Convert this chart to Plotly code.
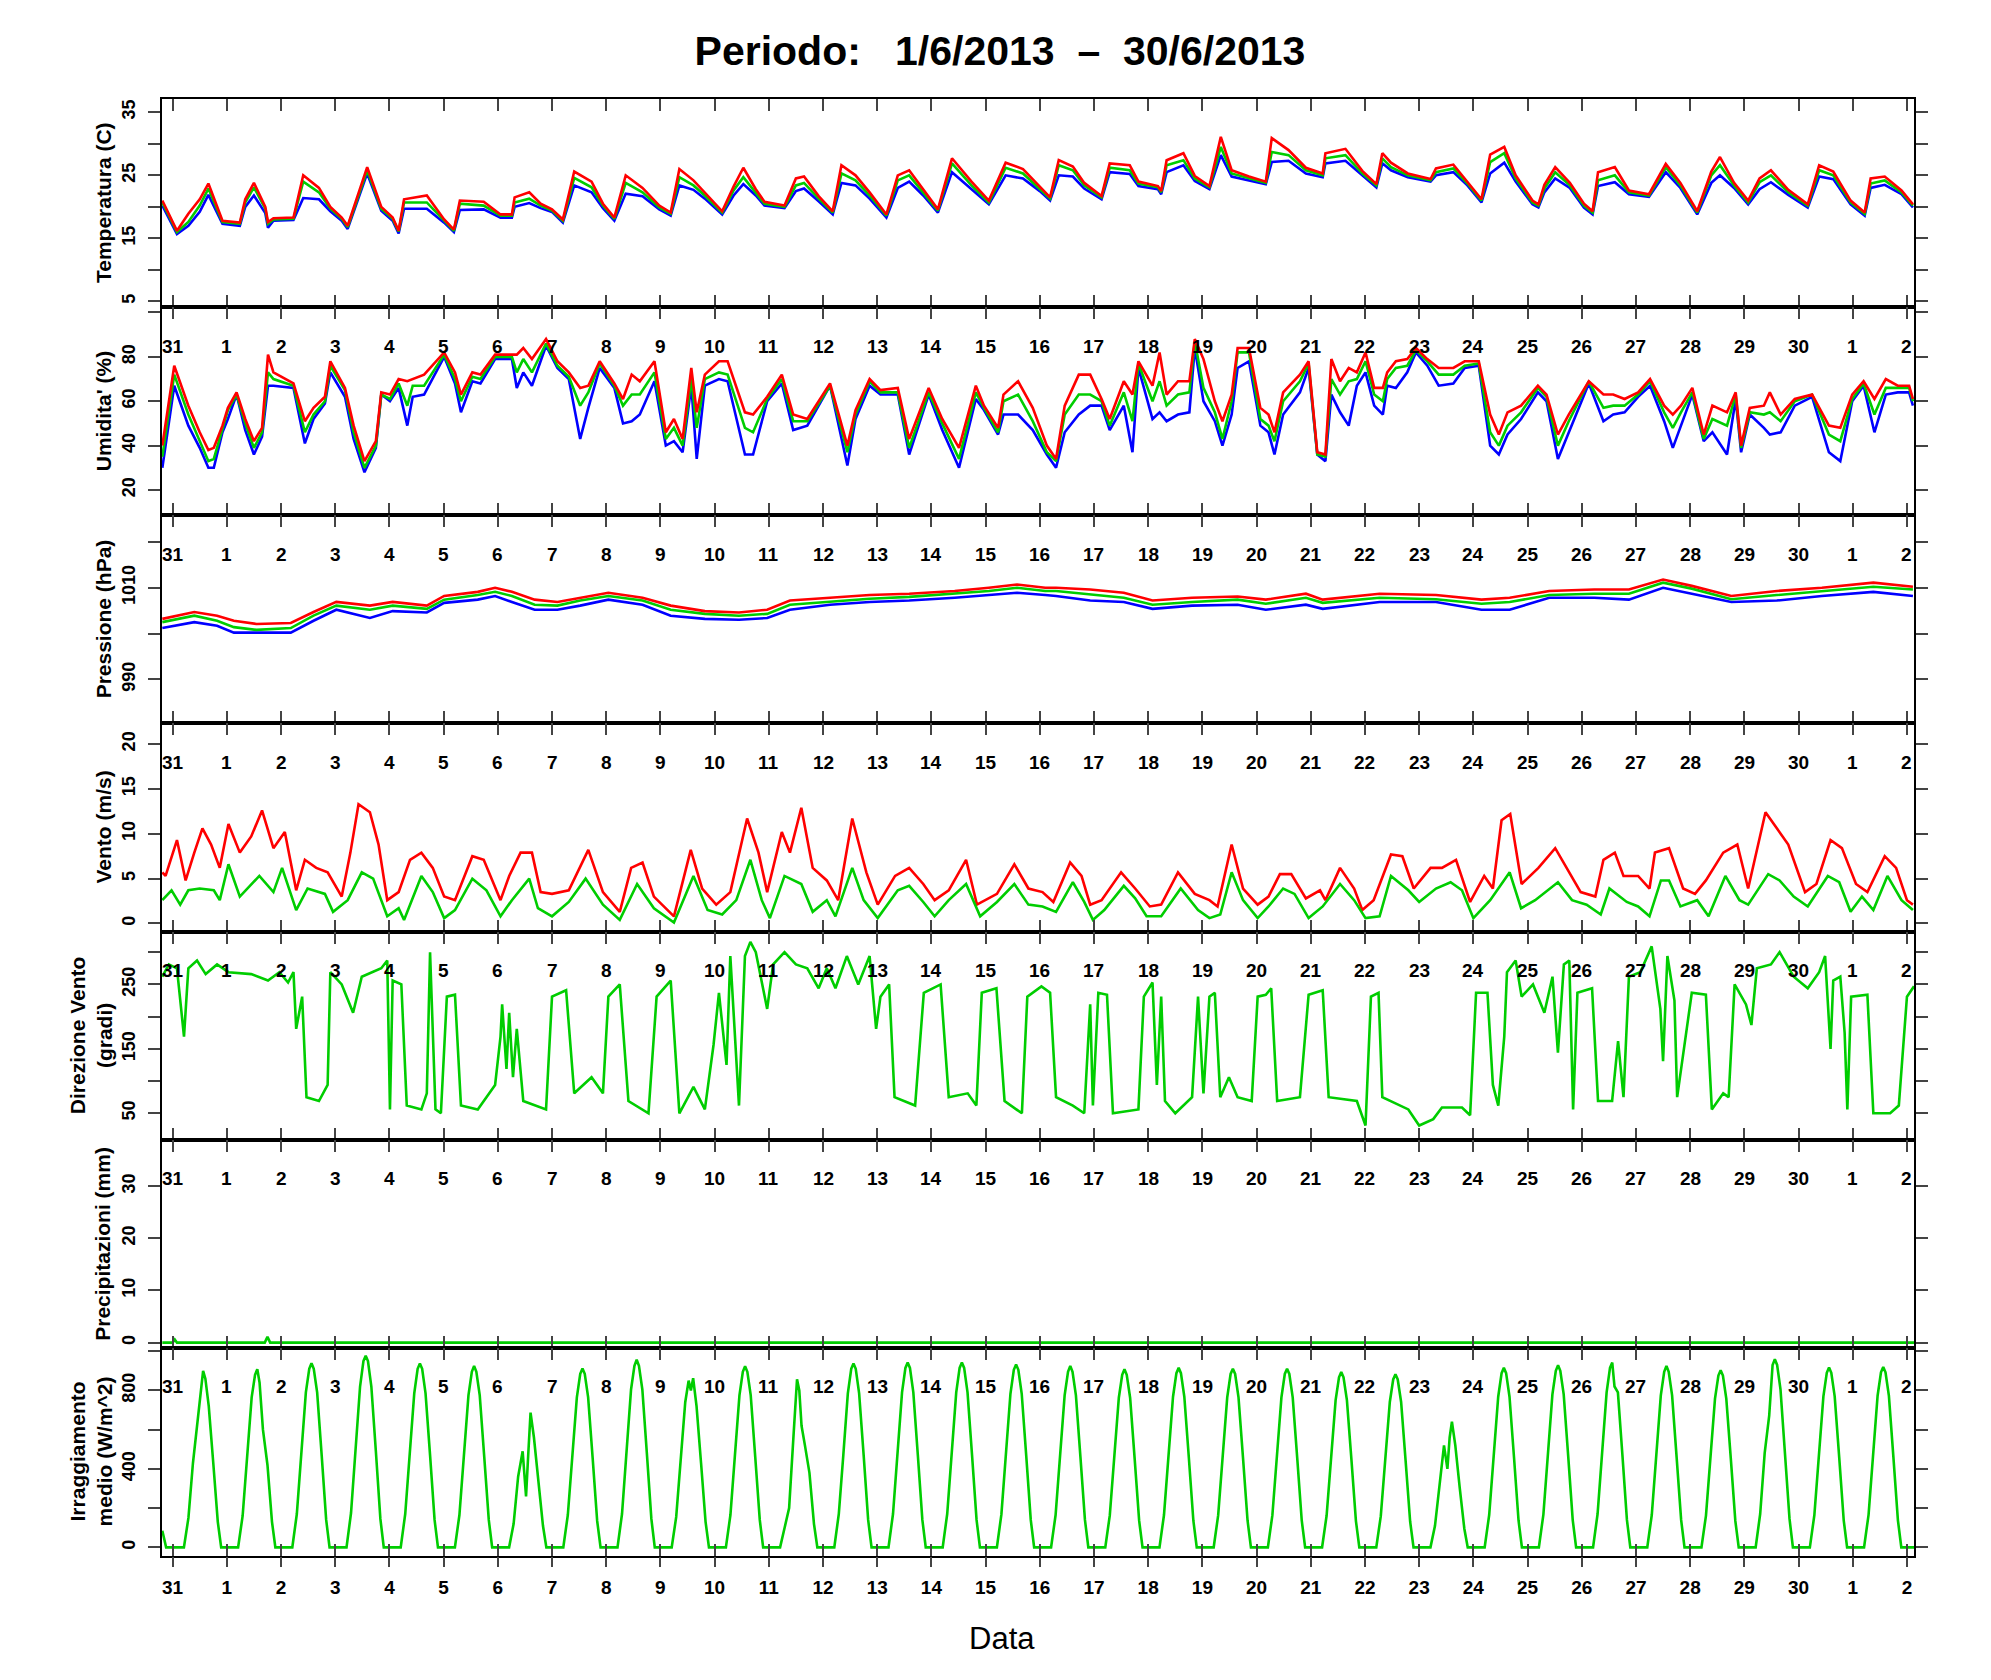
import pandas as pd
import plotly.graph_objects as go

# tempi in giorni dal 31/5/2013 00:00 (ora locale)
inizio = pd.Timestamp("2013-05-31")
x_da, x_a = -0.196, 32.13

# giorni sull'asse x (mezzanotte)
giorni_tick = list(range(33))
etichette_giorni = ["31"] + [str(g) for g in range(1, 31)] + ["1", "2"]

# --- temperatura (C): max, media, min ---
t_temp = [-0.19, 0.08, 0.29, 0.50, 0.66, 0.92, 1.24, 1.34, 1.50, 1.71,
          1.76, 1.86, 2.23, 2.41, 2.70, 2.91, 3.12, 3.23, 3.59, 3.85,
          4.06, 4.17, 4.27, 4.69, 5.01, 5.19, 5.30, 5.74, 6.05, 6.26,
          6.31, 6.58, 6.79, 7.00, 7.20, 7.41, 7.73, 7.94, 8.15, 8.36,
          8.67, 8.98, 9.19, 9.35, 9.61, 9.82, 10.14, 10.35, 10.53, 10.76,
          10.92, 11.29, 11.50, 11.65, 11.92, 12.18, 12.34, 12.60, 12.86, 13.17,
          13.38, 13.59, 13.85, 14.12, 14.38, 14.74, 15.06, 15.37, 15.69, 16.00,
          16.19, 16.35, 16.61, 16.82, 17.14, 17.29, 17.66, 17.82, 18.18, 18.24,
          18.34, 18.65, 18.86, 19.13, 19.34, 19.54, 19.86, 20.17, 20.28, 20.59,
          20.91, 21.22, 21.27, 21.64, 21.95, 22.21, 22.32, 22.48, 22.79, 23.21,
          23.31, 23.63, 23.89, 24.15, 24.31, 24.57, 24.78, 25.09, 25.20, 25.31,
          25.51, 25.78, 26.04, 26.20, 26.30, 26.61, 26.87, 27.24, 27.55, 27.82,
          28.13, 28.39, 28.55, 28.81, 29.07, 29.28, 29.49, 29.81, 30.17, 30.38,
          30.64, 30.96, 31.22, 31.33, 31.59, 31.90, 32.11]
temp_max = [21.0, 16.2, 18.9, 21.2, 23.7, 17.8, 17.5, 21.2, 23.8, 20.0,
            17.6, 18.2, 18.3, 25.0, 23.0, 20.0, 18.3, 17.0, 26.3, 20.0,
            18.3, 16.2, 21.2, 21.8, 18.0, 16.4, 21.0, 20.8, 18.8, 18.8,
            21.5, 22.3, 20.5, 19.6, 18.0, 25.6, 24.0, 20.5, 18.3, 25.0,
            23.0, 20.2, 19.1, 26.0, 24.2, 22.3, 19.3, 23.2, 26.2, 22.8,
            20.8, 20.2, 24.5, 24.8, 21.7, 19.3, 26.6, 25.0, 22.3, 18.8,
            25.0, 25.8, 22.8, 19.6, 27.7, 24.0, 21.0, 27.0, 26.0, 23.3,
            21.5, 27.4, 26.4, 23.8, 21.7, 26.9, 26.6, 24.0, 23.3, 22.5,
            27.4, 28.5, 24.9, 23.3, 31.1, 25.8, 24.8, 24.0, 30.9, 29.0,
            26.2, 25.3, 28.5, 29.2, 25.7, 23.6, 28.5, 27.0, 25.3, 24.4,
            26.1, 26.7, 24.0, 21.2, 28.3, 29.5, 25.0, 21.0, 20.4, 23.5,
            26.3, 23.8, 20.5, 19.3, 25.5, 26.3, 22.6, 22.0, 26.8, 23.8,
            19.3, 25.6, 27.9, 23.8, 21.0, 24.5, 25.8, 22.7, 20.4, 26.6,
            25.6, 21.0, 19.1, 24.5, 24.8, 22.6, 20.4]
temp_med = [20.7, 16.0, 17.6, 20.2, 22.9, 17.6, 17.3, 20.7, 23.1, 19.7,
            17.3, 18.0, 18.1, 24.0, 22.3, 19.7, 18.1, 16.8, 25.8, 19.7,
            18.1, 16.1, 20.7, 20.7, 17.8, 16.2, 20.5, 20.2, 18.6, 18.6,
            20.7, 21.3, 20.2, 19.4, 17.8, 24.6, 23.1, 20.2, 18.1, 23.8,
            22.3, 19.9, 18.9, 24.7, 23.4, 21.8, 19.1, 22.6, 24.7, 22.3,
            20.5, 20.0, 23.4, 23.8, 21.3, 19.1, 25.3, 24.2, 21.8, 18.6,
            24.2, 25.0, 22.3, 19.4, 26.9, 23.4, 20.7, 26.2, 25.3, 22.9,
            21.3, 26.6, 25.8, 23.4, 21.5, 26.2, 25.8, 23.7, 23.1, 22.3,
            26.6, 27.4, 24.5, 23.1, 29.5, 25.3, 24.5, 23.8, 28.7, 28.2,
            25.8, 25.0, 27.7, 28.2, 25.3, 23.4, 27.7, 26.3, 25.0, 24.2,
            25.5, 26.1, 23.7, 21.0, 27.1, 28.5, 24.5, 20.7, 20.2, 22.9,
            25.5, 23.4, 20.2, 19.1, 24.2, 25.0, 22.3, 21.8, 26.3, 23.4,
            19.1, 25.0, 26.6, 23.4, 20.7, 23.9, 25.0, 22.3, 20.2, 25.8,
            25.0, 20.7, 18.9, 23.7, 24.2, 22.3, 20.2]
temp_min = [20.2, 15.7, 17.0, 19.2, 21.9, 17.3, 17.0, 20.0, 21.8, 19.0,
            16.7, 17.8, 17.9, 21.4, 21.2, 19.3, 17.8, 16.5, 25.3, 19.4,
            17.8, 15.8, 19.7, 19.7, 17.5, 16.0, 19.5, 19.6, 18.3, 18.3,
            20.0, 20.6, 19.8, 19.2, 17.5, 23.4, 22.3, 19.8, 17.8, 22.1,
            21.7, 19.6, 18.6, 23.4, 22.7, 21.3, 18.8, 21.8, 23.6, 21.8,
            20.2, 19.8, 22.5, 22.9, 20.9, 18.8, 23.8, 23.4, 21.3, 18.3,
            23.0, 24.0, 21.8, 19.1, 25.5, 22.8, 20.4, 25.0, 24.5, 22.5,
            21.0, 25.0, 24.8, 22.9, 21.2, 25.5, 25.2, 23.3, 22.8, 22.0,
            25.5, 26.6, 24.1, 22.8, 28.2, 24.8, 24.2, 23.6, 27.1, 27.3,
            25.3, 24.7, 26.9, 27.3, 25.0, 23.1, 26.9, 25.8, 24.7, 24.0,
            25.0, 25.5, 23.4, 20.7, 25.3, 27.0, 24.0, 20.4, 19.9, 22.3,
            24.5, 23.0, 19.9, 18.8, 23.3, 23.9, 22.0, 21.6, 25.5, 23.0,
            18.8, 23.8, 25.0, 23.0, 20.4, 22.8, 23.9, 21.9, 19.9, 24.8,
            24.4, 20.4, 18.6, 23.0, 23.5, 22.0, 19.9]

# --- umidita' (%): max, media, min ---
t_umid = [-0.19, 0.03, 0.29, 0.50, 0.66, 0.76, 0.92, 1.02, 1.18, 1.34,
          1.50, 1.65, 1.76, 1.86, 2.23, 2.44, 2.60, 2.81, 2.91, 3.18,
          3.34, 3.54, 3.75, 3.85, 4.01, 4.17, 4.33, 4.43, 4.64, 5.01,
          5.21, 5.32, 5.53, 5.68, 5.95, 6.26, 6.35, 6.47, 6.63, 6.89,
          7.10, 7.31, 7.52, 7.67, 7.88, 8.15, 8.31, 8.47, 8.62, 8.89,
          9.10, 9.25, 9.41, 9.57, 9.67, 9.82, 10.08, 10.24, 10.56, 10.71,
          10.97, 11.24, 11.45, 11.71, 12.13, 12.45, 12.60, 12.86, 13.06, 13.38,
          13.59, 13.95, 14.20, 14.51, 14.82, 14.97, 15.23, 15.33, 15.60, 15.87,
          16.13, 16.30, 16.46, 16.72, 16.93, 17.14, 17.29, 17.55, 17.71, 17.82,
          18.08, 18.21, 18.34, 18.55, 18.76, 18.86, 19.02, 19.23, 19.37, 19.54,
          19.65, 19.86, 20.07, 20.22, 20.33, 20.49, 20.80, 20.96, 21.12, 21.27,
          21.38, 21.54, 21.70, 21.85, 22.01, 22.17, 22.33, 22.41, 22.57, 22.78,
          22.94, 23.15, 23.36, 23.63, 23.84, 24.10, 24.31, 24.47, 24.63, 24.88,
          25.19, 25.35, 25.56, 25.76, 26.13, 26.40, 26.58, 26.79, 27.04, 27.26,
          27.52, 27.68, 27.83, 28.04, 28.25, 28.41, 28.68, 28.84, 28.94, 29.10,
          29.36, 29.47, 29.67, 29.93, 30.25, 30.56, 30.77, 30.99, 31.20, 31.40,
          31.61, 31.83, 32.04, 32.11]
umid_max = [40, 76, 58, 46, 38, 39, 49, 57, 64, 52,
            42, 48, 81, 73, 68, 51, 57, 62, 78, 66,
            49, 33, 42, 64, 63, 70, 69, 70, 72, 82,
            73, 63, 73, 72, 81, 81, 81, 84, 79, 88,
            78, 73, 66, 67, 78, 68, 61, 72, 69, 78,
            46, 52, 43, 75, 55, 72, 78, 78, 55, 54,
            62, 72, 54, 52, 68, 40, 56, 70, 65, 66,
            43, 66, 52, 39, 67, 58, 48, 63, 69, 57,
            40, 34, 58, 72, 72, 61, 52, 69, 63, 78,
            67, 82, 63, 69, 69, 88, 79, 60, 51, 63,
            84, 84, 57, 54, 46, 64, 72, 78, 37, 36,
            79, 69, 75, 73, 82, 66, 66, 73, 78, 79,
            84, 79, 75, 75, 78, 78, 54, 45, 55, 58,
            67, 63, 45, 54, 69, 63, 63, 61, 64, 70,
            58, 54, 58, 66, 45, 58, 55, 64, 40, 57,
            58, 64, 54, 61, 63, 49, 48, 63, 69, 61,
            70, 67, 67, 61]
umid_med = [35, 72, 54, 42, 33, 34, 48, 56, 63, 50,
            39, 46, 73, 70, 67, 46, 54, 60, 76, 65,
            46, 30, 40, 63, 61, 68, 58, 67, 67, 81,
            70, 60, 71, 70, 80, 80, 73, 79, 73, 86,
            76, 71, 58, 64, 77, 67, 58, 63, 63, 73,
            43, 48, 40, 70, 48, 70, 73, 72, 48, 46,
            61, 70, 51, 51, 67, 37, 54, 69, 64, 64,
            39, 64, 50, 34, 64, 57, 46, 60, 63, 51,
            37, 33, 54, 63, 63, 60, 49, 64, 51, 77,
            60, 69, 58, 63, 64, 87, 66, 55, 43, 60,
            82, 82, 52, 49, 42, 60, 69, 77, 36, 35,
            70, 63, 69, 70, 78, 63, 60, 70, 75, 76,
            83, 78, 72, 72, 76, 77, 46, 40, 49, 55,
            66, 62, 40, 51, 69, 57, 58, 58, 63, 69,
            55, 48, 55, 64, 43, 52, 49, 63, 39, 55,
            54, 55, 51, 60, 63, 45, 42, 61, 68, 54,
            66, 66, 66, 60]
umid_min = [30, 67, 49, 39, 30, 30, 46, 52, 63, 47,
            36, 44, 67, 67, 66, 41, 52, 59, 73, 62,
            43, 28, 39, 63, 60, 66, 49, 62, 63, 80,
            68, 55, 69, 68, 79, 79, 66, 73, 67, 85,
            75, 70, 43, 57, 75, 66, 50, 51, 54, 69,
            40, 42, 37, 67, 34, 67, 70, 69, 36, 36,
            60, 68, 47, 49, 67, 31, 52, 67, 63, 63,
            36, 63, 47, 30, 61, 56, 45, 54, 54, 47,
            36, 30, 46, 54, 58, 58, 47, 58, 37, 75,
            52, 55, 51, 54, 55, 84, 60, 51, 40, 54,
            75, 78, 49, 46, 36, 54, 64, 75, 36, 33,
            63, 55, 49, 67, 73, 58, 54, 67, 66, 73,
            82, 76, 67, 68, 75, 76, 40, 36, 45, 52,
            64, 60, 34, 46, 68, 51, 54, 55, 62, 67,
            51, 39, 49, 63, 42, 46, 36, 61, 37, 54,
            48, 45, 46, 58, 62, 37, 33, 60, 67, 46,
            63, 64, 64, 58]

# --- pressione (hPa): max, media, min ---
t_press = [-0.19, 0.40, 0.82, 1.13, 1.55, 2.18, 2.60, 3.02, 3.64, 4.06,
           4.69, 5.01, 5.63, 5.95, 6.26, 6.68, 7.10, 7.52, 8.04, 8.67,
           9.19, 9.82, 10.45, 10.97, 11.39, 12.13, 12.86, 13.59, 14.43, 15.06,
           15.58, 16.10, 16.30, 16.93, 17.55, 18.08, 18.81, 19.65, 20.17, 20.91,
           21.22, 22.27, 23.31, 24.15, 24.67, 25.40, 26.23, 26.87, 27.50, 28.03,
           28.76, 29.60, 30.43, 31.38, 32.11]
press_max = [1003.2, 1004.7, 1003.9, 1002.8, 1002.1, 1002.3, 1004.7, 1006.9, 1006.1, 1006.9,
             1006.1, 1008.2, 1009.1, 1010.0, 1009.1, 1007.4, 1006.9, 1007.8, 1008.9, 1007.8,
             1006.1, 1004.9, 1004.6, 1005.2, 1007.2, 1007.8, 1008.4, 1008.7, 1009.3, 1010.0,
             1010.7, 1010.0, 1010.0, 1009.6, 1008.9, 1007.2, 1007.8, 1008.1, 1007.4, 1008.7,
             1007.4, 1008.7, 1008.4, 1007.4, 1007.8, 1009.3, 1009.6, 1009.6, 1011.8, 1010.4,
             1008.2, 1009.3, 1010.0, 1011.1, 1010.2]
press_med = [1002.5, 1003.9, 1002.8, 1001.4, 1000.8, 1001.2, 1003.9, 1006.1, 1005.2, 1006.1,
             1005.4, 1007.4, 1008.4, 1009.1, 1008.2, 1006.3, 1006.1, 1007.2, 1008.2, 1007.2,
             1005.2, 1004.3, 1003.9, 1004.3, 1006.3, 1006.9, 1007.6, 1008.0, 1008.7, 1009.3,
             1010.0, 1009.3, 1009.3, 1008.6, 1007.8, 1006.3, 1006.9, 1007.4, 1006.5, 1007.8,
             1006.7, 1007.8, 1007.5, 1006.5, 1006.9, 1008.4, 1008.7, 1008.7, 1011.1, 1009.8,
             1007.5, 1008.4, 1009.3, 1010.2, 1009.6]
press_min = [1001.2, 1002.5, 1001.7, 1000.2, 1000.2, 1000.2, 1002.8, 1005.2, 1003.4, 1004.9,
             1004.6, 1006.7, 1007.4, 1008.2, 1006.9, 1005.2, 1005.2, 1006.1, 1007.4, 1006.3,
             1003.9, 1003.2, 1003.0, 1003.4, 1005.2, 1006.3, 1006.9, 1007.2, 1007.8, 1008.4,
             1008.9, 1008.4, 1008.2, 1007.2, 1006.9, 1005.4, 1006.1, 1006.3, 1005.2, 1006.3,
             1005.4, 1006.9, 1006.9, 1005.2, 1005.2, 1007.8, 1007.8, 1007.4, 1010.0, 1008.7,
             1006.9, 1007.2, 1008.2, 1009.1, 1008.2]

# --- vento (m/s): raffica (rosso) e medio (verde), coppie (giorno, valore) ---
vento_max = [(-0.19, 5.7), (-0.13, 5.3), (0.08, 9.3), (0.24, 4.8), (0.40, 7.9), (0.55, 10.6),
             (0.71, 8.8), (0.87, 6.2), (1.03, 11.1), (1.24, 7.9), (1.45, 9.7), (1.65, 12.6),
             (1.86, 8.4), (2.07, 10.2), (2.28, 3.7), (2.44, 7.1), (2.65, 6.2), (2.86, 5.7),
             (3.12, 3.0), (3.28, 7.9), (3.43, 13.3), (3.64, 12.4), (3.80, 8.8), (3.96, 2.6),
             (4.17, 3.5), (4.38, 7.1), (4.59, 7.9), (4.80, 6.2), (5.01, 3.0), (5.21, 2.6),
             (5.53, 7.5), (5.74, 7.1), (6.05, 2.6), (6.21, 5.3), (6.42, 7.9), (6.63, 7.9),
             (6.79, 3.5), (7.00, 3.3), (7.31, 3.7), (7.67, 8.2), (7.94, 3.5), (8.25, 1.3),
             (8.46, 6.2), (8.67, 6.8), (8.88, 3.0), (9.25, 0.8), (9.56, 8.2), (9.77, 3.9),
             (10.03, 2.1), (10.29, 3.5), (10.60, 11.7), (10.81, 7.9), (10.97, 3.5), (11.24, 10.2),
             (11.39, 7.9), (11.60, 12.9), (11.81, 6.2), (12.07, 4.8), (12.28, 2.6), (12.54, 11.7),
             (12.80, 5.7), (13.01, 2.1), (13.33, 5.3), (13.59, 6.2), (13.85, 4.4), (14.06, 2.6),
             (14.32, 3.7), (14.64, 7.1), (14.84, 2.1), (15.21, 3.3), (15.53, 6.6), (15.79, 3.9),
             (16.05, 3.5), (16.25, 2.4), (16.56, 6.8), (16.77, 5.3), (16.93, 2.1), (17.14, 2.6),
             (17.50, 5.7), (17.76, 3.9), (18.03, 1.9), (18.24, 2.1), (18.55, 5.7), (18.86, 3.3),
             (19.13, 2.6), (19.28, 1.9), (19.54, 8.8), (19.75, 3.9), (20.02, 2.1), (20.22, 3.0),
             (20.43, 5.5), (20.64, 5.5), (20.91, 2.8), (21.17, 3.7), (21.27, 2.6), (21.54, 6.2),
             (21.80, 3.9), (21.95, 1.5), (22.16, 2.6), (22.48, 7.7), (22.69, 7.5), (22.90, 3.9),
             (23.21, 6.2), (23.42, 6.2), (23.68, 7.1), (23.94, 2.4), (24.20, 5.3), (24.36, 3.9),
             (24.52, 11.5), (24.68, 12.2), (24.89, 4.4), (25.20, 6.2), (25.51, 8.4), (25.72, 6.2),
             (25.98, 3.5), (26.25, 3.0), (26.40, 7.1), (26.61, 7.9), (26.77, 5.3), (27.04, 5.3),
             (27.25, 3.9), (27.35, 7.9), (27.61, 8.4), (27.87, 3.9), (28.09, 3.3), (28.29, 4.8),
             (28.61, 7.9), (28.87, 8.8), (29.07, 3.9), (29.39, 12.4), (29.60, 10.6), (29.81, 8.8),
             (30.12, 3.5), (30.33, 4.4), (30.59, 9.3), (30.80, 8.4), (31.06, 4.4), (31.27, 3.5),
             (31.59, 7.5), (31.80, 6.2), (32.00, 2.6), (32.11, 2.1)]
vento_med = [(-0.19, 2.6), (-0.02, 3.7), (0.14, 2.1), (0.29, 3.7), (0.50, 3.9), (0.76, 3.7),
             (0.87, 2.6), (1.03, 6.6), (1.24, 3.0), (1.60, 5.3), (1.86, 3.5), (2.02, 6.2),
             (2.28, 1.5), (2.49, 3.9), (2.81, 3.3), (2.96, 1.3), (3.23, 2.6), (3.49, 5.7),
             (3.70, 5.0), (3.96, 0.8), (4.17, 1.7), (4.27, 0.4), (4.59, 5.3), (4.80, 3.5),
             (5.01, 0.6), (5.21, 1.5), (5.53, 5.0), (5.79, 3.7), (6.05, 0.8), (6.26, 2.6),
             (6.58, 5.0), (6.74, 1.7), (7.00, 0.8), (7.31, 2.4), (7.62, 5.0), (7.94, 2.1),
             (8.25, 0.4), (8.57, 4.4), (8.88, 1.7), (9.25, 0.1), (9.61, 5.3), (9.87, 1.5),
             (10.14, 1.0), (10.40, 2.6), (10.66, 7.1), (10.87, 2.6), (11.02, 0.6), (11.29, 5.3),
             (11.60, 4.4), (11.81, 1.3), (12.07, 2.6), (12.23, 0.8), (12.54, 6.2), (12.75, 2.6),
             (13.01, 0.6), (13.38, 3.7), (13.59, 4.2), (13.85, 2.4), (14.06, 0.8), (14.32, 2.6),
             (14.64, 4.4), (14.90, 0.8), (15.21, 2.4), (15.53, 4.4), (15.79, 2.1), (16.05, 1.9),
             (16.30, 1.3), (16.61, 4.6), (16.82, 2.4), (16.98, 0.4), (17.19, 1.5), (17.55, 4.2),
             (17.76, 2.8), (17.97, 0.8), (18.24, 0.8), (18.60, 3.9), (18.92, 1.5), (19.13, 0.6),
             (19.33, 1.0), (19.54, 5.7), (19.75, 2.6), (20.02, 0.6), (20.22, 1.9), (20.49, 3.9),
             (20.70, 3.3), (20.96, 0.6), (21.22, 1.9), (21.54, 4.4), (21.80, 2.6), (22.01, 0.6),
             (22.27, 0.8), (22.48, 5.3), (22.80, 3.7), (23.00, 2.4), (23.31, 3.9), (23.58, 4.6),
             (23.79, 3.7), (24.00, 0.6), (24.31, 2.6), (24.67, 5.7), (24.88, 1.7), (25.14, 2.6),
             (25.56, 4.6), (25.82, 2.6), (26.09, 2.1), (26.35, 1.0), (26.51, 3.9), (26.83, 2.4),
             (27.04, 1.9), (27.25, 0.8), (27.46, 4.8), (27.61, 4.8), (27.82, 1.9), (28.13, 2.6),
             (28.34, 0.8), (28.65, 5.3), (28.91, 2.6), (29.07, 2.1), (29.44, 5.5), (29.65, 4.8),
             (29.91, 3.0), (30.17, 1.9), (30.54, 5.3), (30.75, 4.6), (30.96, 1.3), (31.17, 3.0),
             (31.38, 1.5), (31.64, 5.3), (31.90, 2.6), (32.11, 1.5)]

# --- direzione vento (gradi) ---
direzione = [(-0.19, 262), (-0.07, 281), (0.08, 275), (0.21, 169), (0.29, 275), (0.45, 287),
             (0.61, 266), (0.82, 281), (1.03, 269), (1.45, 266), (1.76, 256), (1.97, 269),
             (2.13, 253), (2.23, 269), (2.28, 181), (2.39, 231), (2.47, 75), (2.70, 69),
             (2.86, 94), (2.91, 269), (3.12, 250), (3.33, 206), (3.49, 262), (3.85, 275),
             (3.96, 287), (4.01, 56), (4.06, 256), (4.22, 250), (4.32, 62), (4.59, 56),
             (4.69, 81), (4.75, 300), (4.85, 56), (4.95, 50), (5.06, 231), (5.21, 234),
             (5.32, 62), (5.63, 56), (5.95, 94), (6.05, 169), (6.08, 219), (6.16, 119),
             (6.21, 206), (6.28, 106), (6.35, 181), (6.47, 69), (6.89, 56), (7.00, 231),
             (7.26, 241), (7.41, 81), (7.73, 106), (7.94, 81), (8.04, 231), (8.25, 250),
             (8.41, 69), (8.78, 50), (8.93, 231), (9.19, 256), (9.35, 50), (9.61, 91),
             (9.82, 56), (9.98, 156), (10.08, 237), (10.22, 125), (10.29, 294), (10.45, 62),
             (10.56, 294), (10.66, 316), (10.76, 300), (10.97, 212), (11.08, 281), (11.29, 300),
             (11.50, 281), (11.71, 275), (11.92, 244), (12.07, 275), (12.23, 244), (12.44, 294),
             (12.65, 250), (12.86, 294), (12.98, 181), (13.06, 231), (13.22, 250), (13.32, 75),
             (13.70, 62), (13.86, 237), (14.17, 250), (14.32, 75), (14.67, 81), (14.83, 62),
             (14.93, 237), (15.20, 244), (15.35, 69), (15.67, 50), (15.77, 231), (16.03, 247),
             (16.19, 237), (16.30, 75), (16.61, 62), (16.82, 50), (16.93, 219), (16.98, 62),
             (17.08, 237), (17.24, 234), (17.35, 50), (17.82, 56), (17.92, 231), (18.08, 253),
             (18.16, 94), (18.24, 231), (18.31, 69), (18.50, 50), (18.81, 75), (18.92, 231),
             (19.02, 81), (19.13, 231), (19.23, 237), (19.33, 75), (19.49, 106), (19.65, 75),
             (19.91, 69), (20.02, 231), (20.17, 234), (20.27, 244), (20.38, 69), (20.80, 75),
             (20.96, 234), (21.22, 241), (21.33, 75), (21.85, 69), (22.01, 31), (22.11, 231),
             (22.25, 237), (22.32, 75), (22.80, 56), (23.00, 31), (23.26, 41), (23.42, 59),
             (23.79, 59), (23.94, 47), (24.05, 237), (24.26, 237), (24.36, 94), (24.46, 62),
             (24.57, 169), (24.62, 269), (24.78, 287), (24.89, 231), (25.10, 250), (25.31, 206),
             (25.46, 262), (25.56, 144), (25.67, 281), (25.77, 287), (25.84, 56), (25.92, 237),
             (26.19, 244), (26.30, 69), (26.56, 69), (26.67, 162), (26.77, 75), (26.87, 262),
             (27.08, 269), (27.29, 309), (27.45, 212), (27.50, 131), (27.58, 294), (27.71, 225),
             (27.76, 75), (28.03, 237), (28.29, 234), (28.40, 56), (28.61, 81), (28.71, 75),
             (28.82, 250), (29.03, 219), (29.13, 187), (29.23, 275), (29.49, 281), (29.65, 300),
             (29.91, 262), (30.17, 244), (30.38, 269), (30.49, 294), (30.59, 150), (30.64, 256),
             (30.77, 262), (30.85, 175), (30.90, 56), (30.97, 231), (31.27, 234), (31.38, 50),
             (31.69, 50), (31.85, 62), (32.00, 231), (32.13, 247)]

# --- precipitazioni (mm) ---
precipitazioni = [(-0.19, 0.0), (0.00, 0.0), (0.04, 0.6), (0.08, 0.0), (1.70, 0.0),
                  (1.75, 1.1), (1.80, 0.0), (32.13, 0.0)]

# --- irraggiamento medio (W/m^2): valori diurni per giorno, alle ore sotto ---
ore_irr = [5, 7, 9, 11, 12.5, 13.5, 14.5, 16, 18, 20, 21.5]
irr_giorni = [
    [0, 150, 430, 640, 800, 900, 860, 720, 430, 130, 0],   # 31/5
    [0, 160, 455, 765, 880, 908, 840, 600, 420, 130, 0],   # 1/6
    [0, 170, 470, 790, 910, 939, 910, 790, 470, 140, 0],
    [0, 175, 490, 820, 950, 977, 950, 820, 490, 145, 0],
    [0, 170, 470, 785, 910, 937, 910, 785, 470, 140, 0],
    [0, 165, 460, 775, 895, 925, 895, 775, 460, 140, 0],
    [0, 120, 360, 490, 260, 480, 687, 560, 340, 110, 0],
    [0, 165, 455, 765, 885, 911, 885, 765, 455, 135, 0],
    [0, 170, 480, 805, 925, 956, 925, 805, 480, 145, 0],
    [0, 155, 430, 740, 850, 800, 862, 720, 430, 130, 0],
    [0, 165, 460, 775, 895, 923, 895, 775, 460, 140, 0],   # 10/6
    [0, 100, 200, 580, 857, 800, 620, 520, 380, 120, 0],
    [0, 170, 470, 785, 910, 937, 910, 785, 470, 140, 0],
    [0, 170, 470, 790, 915, 942, 915, 790, 470, 140, 0],
    [0, 170, 470, 790, 915, 942, 915, 790, 470, 140, 0],
    [0, 168, 466, 783, 905, 932, 905, 783, 466, 140, 0],
    [0, 165, 460, 775, 895, 925, 895, 775, 460, 140, 0],
    [0, 163, 454, 763, 880, 908, 880, 763, 454, 136, 0],
    [0, 165, 458, 768, 888, 915, 888, 768, 458, 137, 0],
    [0, 164, 455, 765, 884, 911, 884, 765, 455, 137, 0],
    [0, 164, 455, 765, 884, 911, 884, 765, 455, 137, 0],   # 20/6
    [0, 161, 447, 751, 867, 894, 867, 751, 447, 134, 0],
    [0, 159, 441, 741, 856, 882, 856, 741, 441, 132, 0],
    [0, 110, 300, 520, 400, 560, 641, 520, 300, 95, 0],
    [0, 165, 458, 768, 888, 915, 888, 768, 458, 137, 0],
    [0, 167, 464, 780, 900, 928, 900, 780, 464, 139, 0],
    [0, 170, 470, 790, 915, 942, 820, 790, 470, 140, 0],
    [0, 165, 460, 775, 895, 925, 895, 775, 460, 140, 0],
    [0, 162, 452, 758, 876, 903, 876, 758, 452, 135, 0],
    [0, 170, 480, 672, 930, 959, 930, 805, 480, 145, 0],
    [0, 165, 459, 770, 890, 917, 890, 770, 459, 138, 0],   # 30/6
    [0, 166, 460, 773, 892, 920, 892, 773, 460, 138, 0],   # 1/7
]
irr_inizio = [(-0.19, 85), (-0.12, 0)]
irr_fine = [(32.13, 0)]

ROSSO, VERDE, BLU = "#FF0000", "#00CD00", "#0000FF"
FONT = "Liberation Sans"


def tempi(giorni):
    return [inizio + pd.Timedelta(days=g) for g in giorni]


# sequenza dell'irraggiamento
t_irr = [p[0] for p in irr_inizio]
v_irr = [p[1] for p in irr_inizio]
for g, valori in enumerate(irr_giorni):
    for ora, v in zip(ore_irr, valori):
        t_irr.append(g + ora / 24)
        v_irr.append(v)
t_irr += [p[0] for p in irr_fine]
v_irr += [p[1] for p in irr_fine]

fig = go.Figure()


def linea(pannello, giorni, valori, colore):
    fig.add_trace(go.Scatter(
        x=tempi(giorni), y=valori, mode="lines",
        line=dict(color=colore, width=2.6),
        xaxis="x" if pannello == 1 else f"x{pannello}",
        yaxis="y" if pannello == 1 else f"y{pannello}",
        hoverinfo="skip",
    ))


linea(1, t_temp, temp_min, BLU)
linea(1, t_temp, temp_med, VERDE)
linea(1, t_temp, temp_max, ROSSO)
linea(2, t_umid, umid_min, BLU)
linea(2, t_umid, umid_med, VERDE)
linea(2, t_umid, umid_max, ROSSO)
linea(3, t_press, press_min, BLU)
linea(3, t_press, press_med, VERDE)
linea(3, t_press, press_max, ROSSO)
linea(4, [p[0] for p in vento_max], [p[1] for p in vento_max], ROSSO)
linea(4, [p[0] for p in vento_med], [p[1] for p in vento_med], VERDE)
linea(5, [p[0] for p in direzione], [p[1] for p in direzione], VERDE)
linea(6, [p[0] for p in precipitazioni], [p[1] for p in precipitazioni], VERDE)
linea(7, t_irr, v_irr, VERDE)

# asse inferiore con le date (sovrapposto al pannello 7)
fig.add_trace(go.Scatter(x=tempi([0]), y=[None], xaxis="x8", yaxis="y7",
                         mode="lines", showlegend=False, hoverinfo="skip"))

pannelli = [
    ("Temperatura (C)", [4.1, 37.1], [5, 10, 15, 20, 25, 30, 35],
     ["5", "", "15", "", "25", "", "35"]),
    ("Umidita' (%)", [8.6, 102.4], [20, 40, 60, 80, 100],
     ["20", "40", "60", "80", ""]),
    ("Pressione (hPa)", [980.4, 1025.8], [990, 1000, 1010, 1020],
     ["990", "", "1010", ""]),
    ("Vento (m/s)", [-0.9, 22.3], [0, 5, 10, 15, 20],
     ["0", "5", "10", "15", "20"]),
    ("Direzione Vento<br>(gradi)", [9, 332], [50, 100, 150, 200, 250, 300],
     ["50", "", "150", "", "250", ""]),
    ("Precipitazioni (mm)", [-1.0, 38.9], [0, 10, 20, 30],
     ["0", "10", "20", "30"]),
    ("Irraggiamento<br>medio (W/m^2)", [-44, 1017], [0, 200, 400, 600, 800, 1000],
     ["0", "", "400", "", "800", ""]),
]

# la pagina ha 8 px di margine: la figura e' spostata di conseguenza
SP = 8
W, H = 1991 - SP, 1680 - SP
L, T = 162 - SP, 99 - SP
R, B = W - (1914 - SP), H - (1556 - SP)
PW, PH = W - L - R, H - T - B
x_range = tempi([x_da, x_a])
x_tick = tempi(giorni_tick)

layout = dict(
    width=W, height=H,
    margin=dict(l=L, r=R, t=T, b=B),
    paper_bgcolor="white", plot_bgcolor="white",
    showlegend=False,
    font=dict(family=FONT, color="black"),
    title=dict(
        text="Periodo:\u00a0\u00a0\u00a01/6/2013\u00a0\u00a0\u2013\u00a0\u00a030/6/2013",
        font=dict(family=FONT, size=41, weight="bold", color="black"),
        x=(1000 - SP) / W, xanchor="center", xref="container",
        y=1 - (51 - SP) / H, yanchor="middle", yref="container",
    ),
)

font_giorni = dict(family=FONT, size=19, weight="bold", color="black")
annotazioni = []
for i, (titolo, yr, yv, yt) in enumerate(pannelli, start=1):
    suf = "" if i == 1 else str(i)
    top = 1 - (i - 1) / 7
    bot = 1 - i / 7
    layout[f"xaxis{suf}"] = dict(
        domain=[0, 1], anchor=f"y{suf}", range=x_range,
        tickmode="array", tickvals=x_tick,
        side="top", ticks="inside", ticklen=12, tickwidth=1.5, tickcolor="#444",
        mirror="ticks", showline=True, linecolor="black", linewidth=2,
        showgrid=False, zeroline=False, showticklabels=False,
    )
    layout[f"yaxis{suf}"] = dict(
        domain=[bot, top], anchor=f"x{suf}", range=yr,
        tickmode="array", tickvals=yv, ticktext=yt,
        ticks="outside", ticklen=12, tickwidth=1.5, tickcolor="#444",
        mirror="ticks", showline=True, linecolor="black", linewidth=2,
        showgrid=False, zeroline=False, tickangle=-90,
        ticklabelstandoff=6,
        tickfont=dict(family=FONT, size=18, weight="bold", color="black"),
    )
    due_righe = "<br>" in titolo
    annotazioni.append(dict(
        text=titolo, textangle=-90, xref="paper", yref="paper",
        x=((90.5 if due_righe else 103) - 162) / PW, y=(top + bot) / 2,
        xanchor="center", yanchor="middle", showarrow=False,
        font=dict(family=FONT, size=21, weight="bold", color="black"),
    ))
    # etichette dei giorni dentro il pannello, sotto il bordo superiore
    if i > 1:
        for xt, et in zip(x_tick, etichette_giorni):
            annotazioni.append(dict(
                text=et, xref=f"x{suf}", yref="paper", x=xt, y=top - 39 / PH,
                xanchor="center", yanchor="middle", showarrow=False,
                font=font_giorni,
            ))

layout["xaxis8"] = dict(
    overlaying="x7", anchor="y7", side="bottom", range=x_range,
    tickmode="array", tickvals=x_tick, ticktext=etichette_giorni,
    ticks="outside", ticklen=10, tickwidth=1.5, tickcolor="#444",
    showline=False, showgrid=False, zeroline=False, ticklabelstandoff=4,
    tickfont=font_giorni,
)

annotazioni.append(dict(
    text="Data", xref="paper", yref="paper",
    x=(1002 - 162) / PW, y=-(1639 - 1556) / PH,
    xanchor="center", yanchor="middle", showarrow=False,
    font=dict(family=FONT, size=31, color="black"),
))
layout["annotations"] = annotazioni

fig.update_layout(**layout)
fig.write_html("out.html")
